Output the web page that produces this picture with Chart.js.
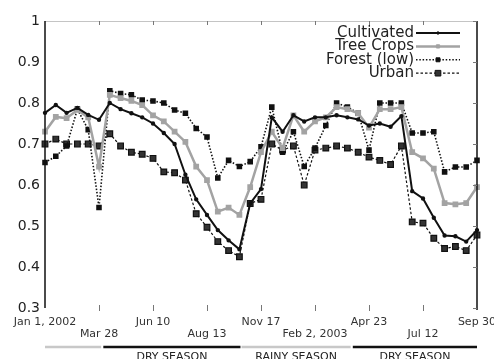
<!DOCTYPE html>
<html>
<head>
<meta charset="utf-8">
<script src="https://cdn.jsdelivr.net/npm/chart.js@4.4.0/dist/chart.umd.min.js"></script>
<style>
html, body { margin: 0; padding: 0; background: #fff; }
#wrap { width: 494px; height: 359px; }
</style>
</head>
<body>
<div id="wrap"><canvas id="myChart"></canvas></div>
<script>
// tick dates, one every 5 samples
const tickDates = ["Jan 1, 2002", "Mar 28", "Jun 10", "Aug 13", "Nov 17", "Feb 2, 2003", "Apr 23", "Jul 12", "Sep 30"];

const cultivated = [0.776, 0.795, 0.776, 0.788, 0.771, 0.759, 0.80, 0.785, 0.775, 0.765,
    0.75, 0.727, 0.70, 0.625, 0.565, 0.527, 0.49, 0.465, 0.443, 0.555,
    0.59, 0.765, 0.73, 0.77, 0.755, 0.765, 0.765, 0.77, 0.765, 0.76,
    0.745, 0.75, 0.742, 0.768, 0.585, 0.567, 0.52, 0.477, 0.475, 0.462, 0.49];
const treeCrops = [0.73, 0.766, 0.763, 0.783, 0.765, 0.645, 0.82, 0.812, 0.805, 0.795,
    0.77, 0.755, 0.73, 0.705, 0.645, 0.612, 0.535, 0.545, 0.527, 0.595,
    0.68, 0.73, 0.69, 0.77, 0.73, 0.755, 0.765, 0.79, 0.785, 0.775,
    0.74, 0.785, 0.785, 0.79, 0.68, 0.665, 0.64, 0.556, 0.553, 0.556, 0.595];
const forestLow = [0.655, 0.67, 0.695, 0.785, 0.735, 0.545, 0.83, 0.823, 0.82, 0.807,
    0.805, 0.80, 0.783, 0.775, 0.738, 0.717, 0.617, 0.66, 0.645, 0.657,
    0.693, 0.79, 0.68, 0.73, 0.645, 0.69, 0.745, 0.80, 0.79, 0.775,
    0.685, 0.80, 0.80, 0.80, 0.727, 0.727, 0.73, 0.632, 0.644, 0.644, 0.66];
const urban = [0.70, 0.712, 0.70, 0.70, 0.70, 0.695, 0.725, 0.695, 0.68, 0.675,
    0.665, 0.632, 0.63, 0.612, 0.53, 0.497, 0.462, 0.44, 0.425, 0.555,
    0.565, 0.70, 0.685, 0.695, 0.60, 0.685, 0.69, 0.695, 0.69, 0.68,
    0.668, 0.66, 0.65, 0.695, 0.51, 0.507, 0.47, 0.445, 0.45, 0.44, 0.478];

// seasons, in sample index units
const seasonNames = ["", "DRY SEASON", "RAINY SEASON", "DRY SEASON"];
const seasonStart = [0, 5.4, 18.2, 28.5];
const seasonEnd = [5.2, 18.1, 28.3, 40];

const labels = cultivated.map((v, i) => i % 5 === 0 ? tickDates[i / 5] : '');
const FONT = "'DejaVu Sans', sans-serif";

const framePlugin = {
    id: 'frame',
    afterDraw(chart) {
        const { ctx, chartArea: a, scales: { x, y } } = chart;
        ctx.save();
        ctx.strokeStyle = '#c4c4c4';
        ctx.lineWidth = 1;
        ctx.beginPath();
        ctx.moveTo(a.left, a.top + 0.5);
        ctx.lineTo(a.right, a.top + 0.5);
        ctx.stroke();

        ctx.strokeStyle = '#111';
        ctx.lineWidth = 1.5;
        ctx.beginPath();
        ctx.moveTo(a.left, a.top);
        ctx.lineTo(a.left, a.bottom);
        ctx.moveTo(a.right, a.top);
        ctx.lineTo(a.right, a.bottom + 2);
        ctx.stroke();

        // small inward ticks
        ctx.strokeStyle = '#777';
        ctx.lineWidth = 1;
        ctx.beginPath();
        for (let i = 5; i < labels.length - 1; i += 5) {
            const px = Math.round(x.getPixelForValue(i)) + 0.5;
            ctx.moveTo(px, a.top);
            ctx.lineTo(px, a.top + 4);
            ctx.moveTo(px, a.bottom - 3);
            ctx.lineTo(px, a.bottom + 3);
        }
        y.ticks.forEach(t => {
            const py = Math.round(y.getPixelForValue(t.value)) + 0.5;
            ctx.moveTo(a.right - 4, py);
            ctx.lineTo(a.right, py);
        });
        ctx.stroke();

        // season bars under the axis
        seasonNames.forEach((name, k) => {
            const x0 = x.getPixelForValue(seasonStart[k]);
            const x1 = x.getPixelForValue(seasonEnd[k]);
            ctx.strokeStyle = name.indexOf('DRY') === 0 ? '#111' : '#c8c8c8';
            ctx.lineWidth = 2.5;
            ctx.beginPath();
            ctx.moveTo(x0, 347);
            ctx.lineTo(x1, 347);
            ctx.stroke();
            if (name) {
                ctx.fillStyle = '#222';
                ctx.font = '11px ' + FONT;
                ctx.textAlign = 'center';
                ctx.textBaseline = 'top';
                ctx.fillText(name, (x0 + x1) / 2, 352);
            }
        });

        // legend: text on the left of the line sample
        chart.data.datasets.forEach((ds, k) => {
            const ly = 33 + k * 13.4;
            ctx.fillStyle = '#222';
            ctx.font = '15px ' + FONT;
            ctx.textAlign = 'right';
            ctx.textBaseline = 'middle';
            ctx.fillText(ds.label, 414, ly);
            ctx.strokeStyle = ds.borderColor;
            ctx.lineWidth = ds.borderWidth;
            ctx.setLineDash(ds.borderDash || []);
            ctx.beginPath();
            ctx.moveTo(416, ly);
            ctx.lineTo(460, ly);
            ctx.stroke();
            ctx.setLineDash([]);
            ctx.fillStyle = ds.backgroundColor;
            ctx.lineWidth = 1;
            Chart.helpers.drawPoint(ctx, {
                pointStyle: ds.pointStyle, radius: ds.pointRadius, borderWidth: 1
            }, 438, ly);
        });
        ctx.restore();
    }
};

new Chart(document.getElementById('myChart'), {
    type: 'line',
    data: {
        labels: labels,
        datasets: [{
            label: 'Cultivated',
            data: cultivated,
            borderColor: '#111',
            backgroundColor: '#111',
            borderWidth: 2,
            pointStyle: 'circle',
            pointRadius: 1.2,
        }, {
            label: 'Tree Crops',
            data: treeCrops,
            borderColor: '#a3a3a3',
            backgroundColor: '#a3a3a3',
            borderWidth: 2.5,
            pointStyle: 'rect',
            pointRadius: 2.3,
        }, {
            label: 'Forest (low)',
            data: forestLow,
            borderColor: '#111',
            backgroundColor: '#111',
            borderWidth: 1.6,
            borderDash: [1.5, 1.8],
            pointStyle: 'rect',
            pointRadius: 2.8,
        }, {
            label: 'Urban',
            data: urban,
            borderColor: '#111',
            backgroundColor: '#333',
            borderWidth: 1.2,
            borderDash: [2.5, 2],
            pointStyle: 'rect',
            pointRadius: 4,
        }]
    },
    options: {
        responsive: true,
        maintainAspectRatio: false,
        animation: false,
        layout: { padding: { top: 21, right: 17, left: 0, bottom: 0 } },
        elements: { line: { tension: 0 }, point: { borderWidth: 1 } },
        plugins: { legend: { display: false }, tooltip: { enabled: false } },
        scales: {
            x: {
                offset: false,
                grid: { display: false, drawTicks: false },
                border: { display: false },
                ticks: {
                    autoSkip: false,
                    maxRotation: 0,
                    padding: 8,
                    color: '#333',
                    font: { family: FONT, size: 11, lineHeight: 1.1 },
                    callback: function(value, index) {
                        if (index % 5 !== 0) return null;
                        const k = index / 5;
                        return k % 2 === 0 ? [labels[index], ''] : ['', labels[index]];
                    }
                },
                afterFit(scale) {
                    scale.height = 51;
                    scale.paddingLeft = 0;
                    scale.paddingRight = 0;
                }
            },
            y: {
                min: 0.3,
                max: 1,
                grid: { display: false, drawTicks: false },
                border: { display: false },
                ticks: {
                    stepSize: 0.1,
                    padding: 5,
                    color: '#222',
                    font: { family: FONT, size: 14 },
                    callback: v => String(Math.round(v * 10) / 10)
                },
                afterFit(scale) {
                    scale.width = 45;
                    scale.paddingTop = 0;
                    scale.paddingBottom = 0;
                }
            }
        }
    },
    plugins: [framePlugin]
});
</script>
</body>
</html>
